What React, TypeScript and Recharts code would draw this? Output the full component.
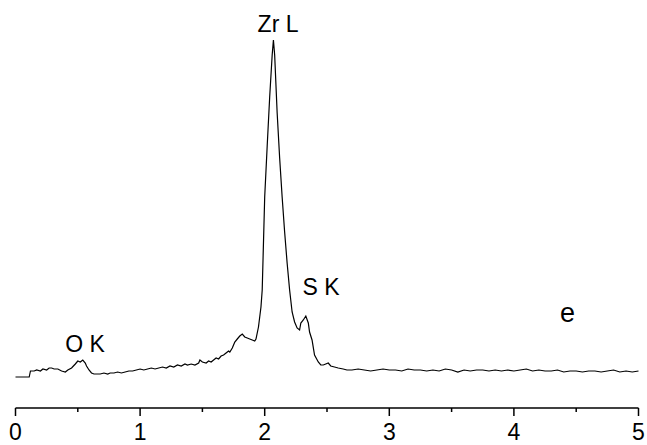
import { LineChart, Line, XAxis, YAxis, ReferenceDot } from 'recharts';

// EDS spectrum, energy in keV, intensity in arbitrary counts
const energy = [
  0.0, 0.11, 0.12, 0.15, 0.17, 0.2, 0.22, 0.25, 0.27, 0.29, 0.31, 0.34, 0.37, 0.4, 0.42, 0.45, 0.48, 0.5,
  0.52, 0.54, 0.56, 0.57, 0.59, 0.61, 0.63, 0.65, 0.68, 0.71, 0.74, 0.76, 0.79, 0.82, 0.85, 0.88, 0.91,
  0.94, 0.97, 1.0, 1.03, 1.06, 1.09, 1.12, 1.15, 1.18, 1.21, 1.24, 1.27, 1.3, 1.33, 1.36, 1.38, 1.41,
  1.44, 1.47, 1.48, 1.5, 1.53, 1.55, 1.57, 1.59, 1.61, 1.63, 1.65, 1.67, 1.69, 1.71, 1.72, 1.74, 1.75,
  1.76, 1.78, 1.8, 1.82, 1.84, 1.86, 1.88, 1.9, 1.92, 1.93, 1.95, 1.97, 1.98, 2.0, 2.02, 2.04, 2.06,
  2.07, 2.08, 2.1, 2.12, 2.14, 2.16, 2.18, 2.2, 2.22, 2.24, 2.26, 2.28, 2.29, 2.31, 2.33, 2.35, 2.36,
  2.38, 2.4, 2.43, 2.45, 2.47, 2.49, 2.51, 2.53, 2.56, 2.59, 2.63, 2.66, 2.7, 2.75, 2.8, 2.85, 2.9,
  2.95, 3.0, 3.05, 3.1, 3.15, 3.2, 3.25, 3.3, 3.35, 3.4, 3.45, 3.5, 3.55, 3.6, 3.65, 3.7, 3.75, 3.8,
  3.85, 3.9, 3.95, 4.0, 4.05, 4.1, 4.15, 4.2, 4.25, 4.3, 4.35, 4.4, 4.45, 4.5, 4.55, 4.6, 4.65, 4.7,
  4.75, 4.8, 4.85, 4.9, 4.95, 5.0,
];
const counts = [
  31, 31, 37, 37, 38, 37, 39, 38, 40, 40, 39, 39, 37, 36, 38, 40, 44, 47,
  46, 48, 45, 42, 38, 35, 34, 34, 34, 35, 34, 35, 35, 36, 35, 36, 37,
  37, 38, 39, 38, 39, 40, 39, 40, 41, 40, 42, 41, 43, 42, 44, 43, 44,
  43, 45, 48, 46, 45, 47, 46, 48, 50, 49, 52, 53, 55, 57, 56, 60, 63,
  66, 69, 72, 74, 71, 70, 69, 68, 67, 69, 81, 101, 118, 211, 262, 311, 353,
  368, 353, 295, 250, 211, 176, 145, 118, 96, 86, 80, 78, 85, 88, 92, 85, 76,
  68, 53, 46, 43, 43, 44, 45, 42, 41, 40, 39, 38, 38, 39, 38, 37, 38,
  39, 38, 38, 37, 39, 38, 38, 37, 38, 37, 39, 38, 36, 38, 37, 38, 38, 37,
  38, 37, 38, 37, 38, 39, 37, 38, 37, 37, 38, 36, 37, 37, 36, 37, 37, 36,
  37, 38, 36, 37, 36, 37,
];
const xTicks = [0, 0.5, 1, 1.5, 2, 2.5, 3, 3.5, 4, 4.5, 5];
const peakLabels = ['Zr L', 'O K', 'S K', 'e'];
const labelX = [2.107, 0.558, 2.452, 4.43];
const labelY = [376, 56, 113, 86];
const labelSize = [23, 23, 23, 27];

const data = energy.map((e, i) => ({ e, c: counts[i] }));
const font = '"Liberation Sans", Arial, sans-serif';

function AxisTick(props: any) {
  const { x, y, payload } = props;
  const major = Number.isInteger(payload.value);
  return (
    <g>
      <line x1={x} y1={y} x2={x} y2={y + (major ? 8 : 4)} stroke="#000" strokeWidth={1.5} />
      {major && (
        <text x={x} y={y + 32} textAnchor="middle" fontSize={23} fontFamily={font} fill="#000">
          {payload.value}
        </text>
      )}
    </g>
  );
}

export default function App() {
  return (
    <div style={{ position: 'absolute', left: 0, top: 0, background: '#fff' }}>
      <LineChart width={647} height={445} data={data} margin={{ top: 30, right: 8.5, bottom: 0, left: 15.5 }}>
        <XAxis
          dataKey="e"
          type="number"
          domain={[0, 5]}
          ticks={xTicks}
          height={37}
          tickSize={0}
          tickMargin={0}
          tickLine={false}
          tick={<AxisTick />}
          axisLine={{ stroke: '#000', strokeWidth: 1.5 }}
          interval={0}
        />
        <YAxis hide domain={[0, 378]} />
        <Line
          type="linear"
          dataKey="c"
          stroke="#000"
          strokeWidth={1.2}
          dot={false}
          isAnimationActive={false}
        />
        {peakLabels.map((t, i) => (
          <ReferenceDot
            key={t}
            x={labelX[i]}
            y={labelY[i]}
            r={0}
            shape={(p: any) => (
              <text x={p.cx} y={p.cy} textAnchor="middle" fontSize={labelSize[i]} fontFamily={font} fill="#000">
                {t}
              </text>
            )}
          />
        ))}
      </LineChart>
    </div>
  );
}
